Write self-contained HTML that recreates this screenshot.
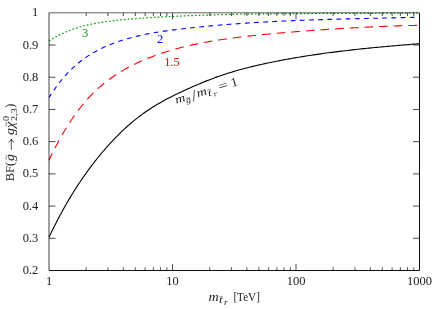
<!DOCTYPE html>
<html><head><meta charset="utf-8"><title>plot</title>
<style>
html,body{margin:0;padding:0;background:#fff;}
body{width:439px;height:309px;overflow:hidden;}
svg{display:block;will-change:transform;}
text{font-family:"Liberation Serif",serif;font-size:12.5px;fill:#222;}
.it{font-style:italic;}
</style></head><body>
<svg width="439" height="309" viewBox="0 0 439 309">
<rect width="439" height="309" fill="#fff"/>
<path d="M49.00,41.04 L50.86,39.84 L52.72,38.69 L54.59,37.59 L56.45,36.55 L58.31,35.54 L60.17,34.59 L62.03,33.68 L63.89,32.81 L65.76,31.98 L67.62,31.20 L69.48,30.45 L71.34,29.74 L73.20,29.07 L75.07,28.44 L76.93,27.83 L78.79,27.26 L80.65,26.72 L82.51,26.21 L84.37,25.72 L86.24,25.26 L88.10,24.83 L89.96,24.42 L91.82,24.04 L93.68,23.67 L95.55,23.32 L97.41,22.99 L99.27,22.68 L101.13,22.38 L102.99,22.10 L104.85,21.83 L106.72,21.57 L108.58,21.32 L110.44,21.08 L112.30,20.85 L114.16,20.62 L116.03,20.41 L117.89,20.20 L119.75,20.00 L121.61,19.81 L123.47,19.63 L125.33,19.45 L127.20,19.28 L129.06,19.11 L130.92,18.95 L132.78,18.80 L134.64,18.65 L136.51,18.51 L138.37,18.37 L140.23,18.24 L142.09,18.11 L143.95,17.99 L145.81,17.87 L147.68,17.75 L149.54,17.63 L151.40,17.52 L153.26,17.41 L155.12,17.31 L156.98,17.20 L158.85,17.10 L160.71,17.00 L162.57,16.90 L164.43,16.80 L166.29,16.70 L168.16,16.61 L170.02,16.52 L171.88,16.43 L173.74,16.34 L175.60,16.26 L177.46,16.17 L179.33,16.09 L181.19,16.01 L183.05,15.93 L184.91,15.85 L186.77,15.78 L188.64,15.70 L190.50,15.63 L192.36,15.56 L194.22,15.49 L196.08,15.43 L197.94,15.36 L199.81,15.30 L201.67,15.23 L203.53,15.17 L205.39,15.11 L207.25,15.05 L209.12,15.00 L210.98,14.94 L212.84,14.89 L214.70,14.84 L216.56,14.79 L218.42,14.74 L220.29,14.69 L222.15,14.64 L224.01,14.59 L225.87,14.55 L227.73,14.51 L229.60,14.47 L231.46,14.42 L233.32,14.39 L235.18,14.35 L237.04,14.31 L238.90,14.27 L240.77,14.24 L242.63,14.20 L244.49,14.17 L246.35,14.14 L248.21,14.11 L250.08,14.08 L251.94,14.05 L253.80,14.02 L255.66,14.00 L257.52,13.97 L259.38,13.94 L261.25,13.92 L263.11,13.90 L264.97,13.87 L266.83,13.85 L268.69,13.83 L270.56,13.81 L272.42,13.79 L274.28,13.77 L276.14,13.75 L278.00,13.74 L279.86,13.72 L281.73,13.70 L283.59,13.69 L285.45,13.67 L287.31,13.66 L289.17,13.65 L291.04,13.63 L292.90,13.62 L294.76,13.61 L296.62,13.60 L298.48,13.59 L300.34,13.58 L302.21,13.57 L304.07,13.56 L305.93,13.55 L307.79,13.54 L309.65,13.53 L311.52,13.52 L313.38,13.51 L315.24,13.50 L317.10,13.50 L318.96,13.49 L320.82,13.48 L322.69,13.47 L324.55,13.47 L326.41,13.46 L328.27,13.45 L330.13,13.45 L331.99,13.44 L333.86,13.43 L335.72,13.43 L337.58,13.42 L339.44,13.41 L341.30,13.41 L343.17,13.40 L345.03,13.40 L346.89,13.39 L348.75,13.38 L350.61,13.38 L352.47,13.37 L354.34,13.36 L356.20,13.35 L358.06,13.35 L359.92,13.34 L361.78,13.33 L363.65,13.32 L365.51,13.31 L367.37,13.31 L369.23,13.30 L371.09,13.29 L372.95,13.28 L374.82,13.27 L376.68,13.26 L378.54,13.24 L380.40,13.23 L382.26,13.22 L384.13,13.21 L385.99,13.20 L387.85,13.18 L389.71,13.17 L391.57,13.15 L393.43,13.14 L395.30,13.12 L397.16,13.10 L399.02,13.09 L400.88,13.07 L402.74,13.05 L404.61,13.03 L406.47,13.01 L408.33,12.99 L410.19,12.97 L412.05,12.95 L413.91,12.92 L415.78,12.90 L417.64,12.87 L419.50,12.85" fill="none" stroke="#00a000" stroke-width="1.2" stroke-dasharray="1.7 2.05" stroke-dashoffset="0.00"/>
<path d="M49.00,97.55 L50.86,94.66 L52.72,91.87 L54.59,89.19 L56.45,86.61 L58.31,84.13 L60.17,81.75 L62.03,79.47 L63.89,77.27 L65.76,75.17 L67.62,73.15 L69.48,71.22 L71.34,69.36 L73.20,67.59 L75.07,65.89 L76.93,64.27 L78.79,62.71 L80.65,61.23 L82.51,59.81 L84.37,58.45 L86.24,57.15 L88.10,55.91 L89.96,54.72 L91.82,53.59 L93.68,52.50 L95.55,51.46 L97.41,50.46 L99.27,49.51 L101.13,48.59 L102.99,47.71 L104.85,46.86 L106.72,46.05 L108.58,45.26 L110.44,44.49 L112.30,43.76 L114.16,43.05 L116.03,42.36 L117.89,41.70 L119.75,41.06 L121.61,40.45 L123.47,39.86 L125.33,39.29 L127.20,38.74 L129.06,38.21 L130.92,37.70 L132.78,37.21 L134.64,36.74 L136.51,36.28 L138.37,35.85 L140.23,35.43 L142.09,35.02 L143.95,34.63 L145.81,34.26 L147.68,33.90 L149.54,33.55 L151.40,33.21 L153.26,32.89 L155.12,32.58 L156.98,32.27 L158.85,31.98 L160.71,31.70 L162.57,31.42 L164.43,31.16 L166.29,30.90 L168.16,30.64 L170.02,30.40 L171.88,30.16 L173.74,29.92 L175.60,29.68 L177.46,29.45 L179.33,29.23 L181.19,29.01 L183.05,28.79 L184.91,28.57 L186.77,28.36 L188.64,28.15 L190.50,27.94 L192.36,27.74 L194.22,27.54 L196.08,27.34 L197.94,27.15 L199.81,26.95 L201.67,26.77 L203.53,26.58 L205.39,26.40 L207.25,26.22 L209.12,26.05 L210.98,25.87 L212.84,25.70 L214.70,25.54 L216.56,25.37 L218.42,25.21 L220.29,25.05 L222.15,24.89 L224.01,24.74 L225.87,24.59 L227.73,24.44 L229.60,24.29 L231.46,24.15 L233.32,24.01 L235.18,23.87 L237.04,23.74 L238.90,23.60 L240.77,23.47 L242.63,23.34 L244.49,23.22 L246.35,23.09 L248.21,22.97 L250.08,22.85 L251.94,22.73 L253.80,22.62 L255.66,22.51 L257.52,22.39 L259.38,22.29 L261.25,22.18 L263.11,22.07 L264.97,21.97 L266.83,21.87 L268.69,21.77 L270.56,21.67 L272.42,21.58 L274.28,21.48 L276.14,21.39 L278.00,21.30 L279.86,21.21 L281.73,21.13 L283.59,21.04 L285.45,20.96 L287.31,20.88 L289.17,20.80 L291.04,20.72 L292.90,20.64 L294.76,20.57 L296.62,20.49 L298.48,20.42 L300.34,20.35 L302.21,20.28 L304.07,20.21 L305.93,20.14 L307.79,20.08 L309.65,20.01 L311.52,19.95 L313.38,19.88 L315.24,19.82 L317.10,19.76 L318.96,19.70 L320.82,19.65 L322.69,19.59 L324.55,19.53 L326.41,19.48 L328.27,19.42 L330.13,19.37 L331.99,19.31 L333.86,19.26 L335.72,19.21 L337.58,19.16 L339.44,19.11 L341.30,19.06 L343.17,19.01 L345.03,18.97 L346.89,18.92 L348.75,18.87 L350.61,18.83 L352.47,18.78 L354.34,18.73 L356.20,18.69 L358.06,18.65 L359.92,18.60 L361.78,18.56 L363.65,18.51 L365.51,18.47 L367.37,18.43 L369.23,18.39 L371.09,18.34 L372.95,18.30 L374.82,18.26 L376.68,18.22 L378.54,18.17 L380.40,18.13 L382.26,18.09 L384.13,18.05 L385.99,18.01 L387.85,17.96 L389.71,17.92 L391.57,17.88 L393.43,17.83 L395.30,17.79 L397.16,17.75 L399.02,17.70 L400.88,17.66 L402.74,17.62 L404.61,17.57 L406.47,17.53 L408.33,17.48 L410.19,17.43 L412.05,17.39 L413.91,17.34 L415.78,17.29 L417.64,17.24 L419.50,17.20" fill="none" stroke="#0000ff" stroke-width="1.1" stroke-dasharray="4.76 4.405" stroke-dashoffset="0.60"/>
<path d="M49.00,160.21 L50.86,156.30 L52.72,152.50 L54.59,148.80 L56.45,145.20 L58.31,141.71 L60.17,138.32 L62.03,135.03 L63.89,131.84 L65.76,128.74 L67.62,125.74 L69.48,122.83 L71.34,120.02 L73.20,117.29 L75.07,114.65 L76.93,112.09 L78.79,109.62 L80.65,107.24 L82.51,104.93 L84.37,102.70 L86.24,100.55 L88.10,98.47 L89.96,96.47 L91.82,94.54 L93.68,92.67 L95.55,90.87 L97.41,89.13 L99.27,87.45 L101.13,85.83 L102.99,84.27 L104.85,82.76 L106.72,81.30 L108.58,79.89 L110.44,78.53 L112.30,77.21 L114.16,75.93 L116.03,74.70 L117.89,73.50 L119.75,72.33 L121.61,71.20 L123.47,70.10 L125.33,69.04 L127.20,68.00 L129.06,66.99 L130.92,66.02 L132.78,65.06 L134.64,64.14 L136.51,63.24 L138.37,62.37 L140.23,61.52 L142.09,60.70 L143.95,59.90 L145.81,59.12 L147.68,58.36 L149.54,57.62 L151.40,56.90 L153.26,56.20 L155.12,55.51 L156.98,54.84 L158.85,54.19 L160.71,53.55 L162.57,52.93 L164.43,52.33 L166.29,51.74 L168.16,51.16 L170.02,50.60 L171.88,50.05 L173.74,49.52 L175.60,49.00 L177.46,48.49 L179.33,48.00 L181.19,47.52 L183.05,47.05 L184.91,46.59 L186.77,46.15 L188.64,45.72 L190.50,45.30 L192.36,44.88 L194.22,44.48 L196.08,44.09 L197.94,43.71 L199.81,43.34 L201.67,42.98 L203.53,42.63 L205.39,42.28 L207.25,41.95 L209.12,41.62 L210.98,41.30 L212.84,40.99 L214.70,40.68 L216.56,40.38 L218.42,40.09 L220.29,39.81 L222.15,39.53 L224.01,39.25 L225.87,38.98 L227.73,38.72 L229.60,38.46 L231.46,38.21 L233.32,37.96 L235.18,37.71 L237.04,37.48 L238.90,37.24 L240.77,37.01 L242.63,36.79 L244.49,36.56 L246.35,36.35 L248.21,36.13 L250.08,35.92 L251.94,35.72 L253.80,35.52 L255.66,35.32 L257.52,35.12 L259.38,34.93 L261.25,34.74 L263.11,34.56 L264.97,34.38 L266.83,34.20 L268.69,34.02 L270.56,33.85 L272.42,33.68 L274.28,33.51 L276.14,33.35 L278.00,33.18 L279.86,33.02 L281.73,32.87 L283.59,32.71 L285.45,32.55 L287.31,32.40 L289.17,32.25 L291.04,32.10 L292.90,31.95 L294.76,31.81 L296.62,31.66 L298.48,31.52 L300.34,31.38 L302.21,31.23 L304.07,31.09 L305.93,30.95 L307.79,30.81 L309.65,30.68 L311.52,30.54 L313.38,30.41 L315.24,30.27 L317.10,30.14 L318.96,30.01 L320.82,29.88 L322.69,29.75 L324.55,29.62 L326.41,29.50 L328.27,29.37 L330.13,29.25 L331.99,29.13 L333.86,29.01 L335.72,28.89 L337.58,28.77 L339.44,28.65 L341.30,28.54 L343.17,28.42 L345.03,28.31 L346.89,28.20 L348.75,28.09 L350.61,27.99 L352.47,27.88 L354.34,27.78 L356.20,27.68 L358.06,27.58 L359.92,27.48 L361.78,27.38 L363.65,27.28 L365.51,27.19 L367.37,27.10 L369.23,27.01 L371.09,26.92 L372.95,26.83 L374.82,26.75 L376.68,26.67 L378.54,26.59 L380.40,26.51 L382.26,26.43 L384.13,26.36 L385.99,26.28 L387.85,26.21 L389.71,26.14 L391.57,26.08 L393.43,26.01 L395.30,25.95 L397.16,25.89 L399.02,25.83 L400.88,25.77 L402.74,25.72 L404.61,25.67 L406.47,25.62 L408.33,25.57 L410.19,25.52 L412.05,25.48 L413.91,25.44 L415.78,25.40 L417.64,25.37 L419.50,25.33" fill="none" stroke="#ff0000" stroke-width="1.1" stroke-dasharray="8.68 5.99" stroke-dashoffset="1.10"/>
<path d="M49.00,237.28 L50.86,233.38 L52.72,229.57 L54.59,225.83 L56.45,222.18 L58.31,218.59 L60.17,215.09 L62.03,211.65 L63.89,208.29 L65.76,205.00 L67.62,201.78 L69.48,198.62 L71.34,195.53 L73.20,192.50 L75.07,189.54 L76.93,186.64 L78.79,183.79 L80.65,181.01 L82.51,178.27 L84.37,175.60 L86.24,172.98 L88.10,170.40 L89.96,167.88 L91.82,165.41 L93.68,162.98 L95.55,160.60 L97.41,158.26 L99.27,155.97 L101.13,153.71 L102.99,151.50 L104.85,149.33 L106.72,147.21 L108.58,145.12 L110.44,143.07 L112.30,141.07 L114.16,139.10 L116.03,137.18 L117.89,135.30 L119.75,133.45 L121.61,131.65 L123.47,129.89 L125.33,128.17 L127.20,126.48 L129.06,124.84 L130.92,123.23 L132.78,121.67 L134.64,120.14 L136.51,118.64 L138.37,117.19 L140.23,115.77 L142.09,114.39 L143.95,113.04 L145.81,111.73 L147.68,110.46 L149.54,109.21 L151.40,108.00 L153.26,106.83 L155.12,105.68 L156.98,104.56 L158.85,103.46 L160.71,102.40 L162.57,101.35 L164.43,100.33 L166.29,99.33 L168.16,98.35 L170.02,97.39 L171.88,96.44 L173.74,95.51 L175.60,94.60 L177.46,93.69 L179.33,92.80 L181.19,91.92 L183.05,91.05 L184.91,90.18 L186.77,89.33 L188.64,88.48 L190.50,87.65 L192.36,86.83 L194.22,86.02 L196.08,85.21 L197.94,84.42 L199.81,83.64 L201.67,82.87 L203.53,82.11 L205.39,81.37 L207.25,80.63 L209.12,79.91 L210.98,79.19 L212.84,78.49 L214.70,77.81 L216.56,77.13 L218.42,76.47 L220.29,75.82 L222.15,75.18 L224.01,74.55 L225.87,73.94 L227.73,73.34 L229.60,72.76 L231.46,72.18 L233.32,71.62 L235.18,71.07 L237.04,70.53 L238.90,70.01 L240.77,69.49 L242.63,68.98 L244.49,68.49 L246.35,68.00 L248.21,67.52 L250.08,67.05 L251.94,66.60 L253.80,66.15 L255.66,65.70 L257.52,65.27 L259.38,64.84 L261.25,64.43 L263.11,64.02 L264.97,63.61 L266.83,63.21 L268.69,62.82 L270.56,62.44 L272.42,62.06 L274.28,61.68 L276.14,61.31 L278.00,60.95 L279.86,60.59 L281.73,60.24 L283.59,59.89 L285.45,59.54 L287.31,59.20 L289.17,58.87 L291.04,58.54 L292.90,58.21 L294.76,57.89 L296.62,57.57 L298.48,57.26 L300.34,56.95 L302.21,56.65 L304.07,56.35 L305.93,56.05 L307.79,55.76 L309.65,55.48 L311.52,55.19 L313.38,54.91 L315.24,54.64 L317.10,54.37 L318.96,54.10 L320.82,53.84 L322.69,53.58 L324.55,53.32 L326.41,53.07 L328.27,52.82 L330.13,52.57 L331.99,52.33 L333.86,52.09 L335.72,51.85 L337.58,51.62 L339.44,51.39 L341.30,51.17 L343.17,50.94 L345.03,50.72 L346.89,50.50 L348.75,50.29 L350.61,50.08 L352.47,49.87 L354.34,49.66 L356.20,49.46 L358.06,49.26 L359.92,49.06 L361.78,48.86 L363.65,48.67 L365.51,48.48 L367.37,48.29 L369.23,48.10 L371.09,47.92 L372.95,47.73 L374.82,47.55 L376.68,47.38 L378.54,47.20 L380.40,47.02 L382.26,46.85 L384.13,46.68 L385.99,46.51 L387.85,46.34 L389.71,46.18 L391.57,46.01 L393.43,45.85 L395.30,45.69 L397.16,45.53 L399.02,45.37 L400.88,45.21 L402.74,45.06 L404.61,44.90 L406.47,44.75 L408.33,44.60 L410.19,44.45 L412.05,44.29 L413.91,44.14 L415.78,44.00 L417.64,43.85 L419.50,43.70" fill="none" stroke="#000" stroke-width="1.1"/>
<path d="M49.0,270.5 V12.8" fill="none" stroke="#000" stroke-width="0.75"/><path d="M49.0,12.8 H419.5" fill="none" stroke="#000" stroke-width="0.62"/><path d="M419.5,12.8 V270.5 H49.0" fill="none" stroke="#000" stroke-width="0.95"/>
<path d="M86.18,270.5 v-3.2 M86.18,12.8 v3.2 M107.92,270.5 v-3.2 M107.92,12.8 v3.2 M123.35,270.5 v-3.2 M123.35,12.8 v3.2 M135.32,270.5 v-3.2 M135.32,12.8 v3.2 M145.10,270.5 v-3.2 M145.10,12.8 v3.2 M153.37,270.5 v-3.2 M153.37,12.8 v3.2 M160.53,270.5 v-3.2 M160.53,12.8 v3.2 M166.85,270.5 v-3.2 M166.85,12.8 v3.2 M172.50,270.5 v-6.5 M172.50,12.8 v6.5 M209.68,270.5 v-3.2 M209.68,12.8 v3.2 M231.42,270.5 v-3.2 M231.42,12.8 v3.2 M246.85,270.5 v-3.2 M246.85,12.8 v3.2 M258.82,270.5 v-3.2 M258.82,12.8 v3.2 M268.60,270.5 v-3.2 M268.60,12.8 v3.2 M276.87,270.5 v-3.2 M276.87,12.8 v3.2 M284.03,270.5 v-3.2 M284.03,12.8 v3.2 M290.35,270.5 v-3.2 M290.35,12.8 v3.2 M296.00,270.5 v-6.5 M296.00,12.8 v6.5 M333.18,270.5 v-3.2 M333.18,12.8 v3.2 M354.92,270.5 v-3.2 M354.92,12.8 v3.2 M370.35,270.5 v-3.2 M370.35,12.8 v3.2 M382.32,270.5 v-3.2 M382.32,12.8 v3.2 M392.10,270.5 v-3.2 M392.10,12.8 v3.2 M400.37,270.5 v-3.2 M400.37,12.8 v3.2 M407.53,270.5 v-3.2 M407.53,12.8 v3.2 M413.85,270.5 v-3.2 M413.85,12.8 v3.2 M49.0,238.29 h6.5 M419.5,238.29 h-6.5 M49.0,206.07 h6.5 M419.5,206.07 h-6.5 M49.0,173.86 h6.5 M419.5,173.86 h-6.5 M49.0,141.65 h6.5 M419.5,141.65 h-6.5 M49.0,109.44 h6.5 M419.5,109.44 h-6.5 M49.0,77.22 h6.5 M419.5,77.22 h-6.5 M49.0,45.01 h6.5 M419.5,45.01 h-6.5" fill="none" stroke="#000" stroke-width="0.7"/>
<text x="38.3" y="274.00" text-anchor="end">0.2</text>
<text x="38.3" y="241.79" text-anchor="end">0.3</text>
<text x="38.3" y="209.57" text-anchor="end">0.4</text>
<text x="38.3" y="177.36" text-anchor="end">0.5</text>
<text x="38.3" y="145.15" text-anchor="end">0.6</text>
<text x="38.3" y="112.94" text-anchor="end">0.7</text>
<text x="38.3" y="80.72" text-anchor="end">0.8</text>
<text x="38.3" y="48.51" text-anchor="end">0.9</text>
<text x="38.3" y="16.30" text-anchor="end">1</text>
<text x="49.00" y="284.8" text-anchor="middle">1</text>
<text x="172.50" y="284.8" text-anchor="middle">10</text>
<text x="296.00" y="284.8" text-anchor="middle">100</text>
<text x="419.50" y="284.8" text-anchor="middle">1000</text>
<!-- curve labels -->
<text x="85" y="37.3" text-anchor="middle" style="fill:#00a000">3</text>
<text x="160" y="42.5" text-anchor="middle" style="fill:#0000ff">2</text>
<text x="172" y="66" text-anchor="middle" style="fill:#ff0000">1.5</text>
<g transform="translate(176.3,103.8) rotate(-16.7)"><text transform="translate(0.00,0.00) scale(1.18,1)" style="font-size:12px;font-style:italic;">m</text><text transform="translate(10.20,2.30) scale(1.15,1)" style="font-size:8.5px;font-style:italic;">g</text><path d="M11.20,-1.80 C11.88,-3.30 12.56,-2.80 12.90,-2.30 S13.92,-1.30 14.60,-2.80" fill="none" stroke="#222" stroke-width="0.5"/><text transform="translate(17.00,2.60) scale(1.05,1)" style="font-size:16px;">/</text><text transform="translate(22.50,0.00) scale(1.18,1)" style="font-size:12px;font-style:italic;">m</text><text transform="translate(33.20,2.30) scale(1.35,1)" style="font-size:9.5px;font-style:italic;">t</text><path d="M33.70,-3.50 C34.38,-5.00 35.06,-4.50 35.40,-4.00 S36.42,-3.00 37.10,-4.50" fill="none" stroke="#222" stroke-width="0.5"/><text transform="translate(38.40,3.80) scale(1.3,1)" style="font-size:7.5px;font-style:italic;">r</text><text transform="translate(45.20,0.00) scale(1.4,1)" style="font-size:12px;">=</text><text transform="translate(58.40,0.00) scale(1.05,1)" style="font-size:12.5px;">1</text></g>
<g transform="translate(208.6,300.8)"><text transform="translate(0.00,0.00) scale(1.18,1)" style="font-size:12px;font-style:italic;">m</text><text transform="translate(10.30,2.30) scale(1.35,1)" style="font-size:9.5px;font-style:italic;">t</text><path d="M10.80,-3.70 C11.48,-5.20 12.16,-4.70 12.50,-4.20 S13.52,-3.20 14.20,-4.70" fill="none" stroke="#222" stroke-width="0.5"/><text transform="translate(15.50,3.80) scale(1.3,1)" style="font-size:7.5px;font-style:italic;">r</text><text transform="translate(24.80,0.00) scale(0.93,1)" style="font-size:12px;">[TeV]</text></g>
<g transform="translate(14.2,180.6) rotate(-90)"><text transform="translate(-0.60,0.00) scale(1.03,1)" style="font-size:12px;">BF(</text><text transform="translate(19.60,0.00) scale(1.15,1)" style="font-size:12px;font-style:italic;">g</text><path d="M21.30,-7.30 C22.14,-9.10 22.98,-8.50 23.40,-7.90 S24.66,-6.70 25.50,-8.50" fill="none" stroke="#222" stroke-width="0.6"/><path d="M30.60,-2.90 H41.40" fill="none" stroke="#222" stroke-width="0.75"/><path d="M38.40,-5.60 Q39.40,-3.40 41.40,-2.90 Q39.40,-2.40 38.40,-0.20" fill="none" stroke="#222" stroke-width="0.75"/><text transform="translate(45.60,0.00) scale(1.15,1)" style="font-size:12px;font-style:italic;">g</text><text transform="translate(52.60,0.00) scale(1.2,1)" style="font-size:12px;font-style:italic;">&#967;</text><path d="M54.30,-7.30 C55.14,-9.10 55.98,-8.50 56.40,-7.90 S57.66,-6.70 58.50,-8.50" fill="none" stroke="#222" stroke-width="0.6"/><text transform="translate(59.60,-4.90) scale(1.2,1)" style="font-size:8.5px;">0</text><text transform="translate(59.60,2.90) scale(1.2,1)" style="font-size:8.5px;">2,3</text><text transform="translate(72.80,0.00)" style="font-size:12px;">)</text></g>
</svg>
</body></html>
